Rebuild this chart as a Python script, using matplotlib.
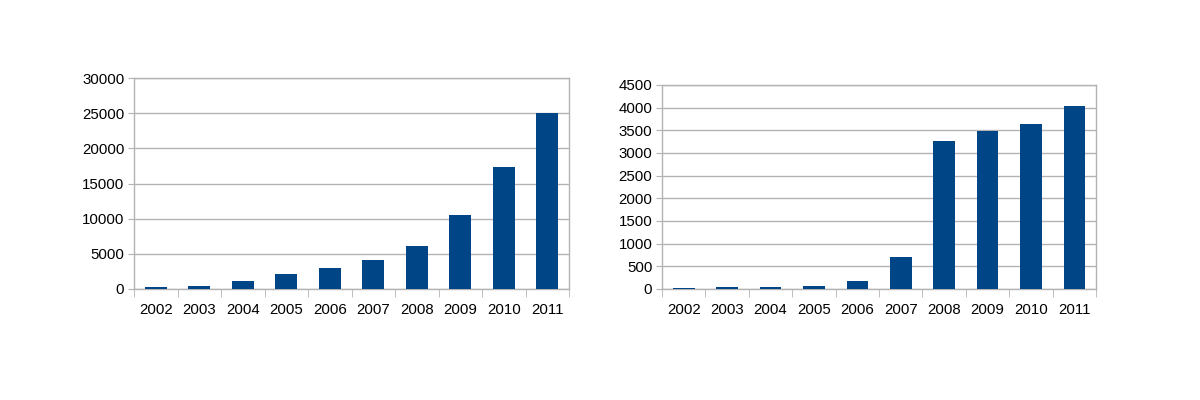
import matplotlib

matplotlib.use("Agg")
import matplotlib.pyplot as plt
import numpy as np
from matplotlib.ticker import FixedLocator, MultipleLocator

years = ["2002", "2003", "2004", "2005", "2006", "2007", "2008", "2009", "2010", "2011"]
left_values = [300, 480, 1200, 2200, 3000, 4100, 6100, 10500, 17400, 25000]
right_values = [12, 35, 35, 60, 170, 700, 3275, 3475, 3650, 4045]

BAR = "#004586"
GRID = "#b3b3b3"

plt.rcParams["font.family"] = ["Liberation Sans", "DejaVu Sans"]

fig = plt.figure(figsize=(12, 4), dpi=100)
ax_l = fig.add_axes([0.1117, 0.2775, 0.3625, 0.5275])
ax_r = fig.add_axes([0.5517, 0.2775, 0.3617, 0.5100])


def style(ax, values, ymax, step):
    x = np.arange(len(years))
    ax.bar(x, values, width=0.5, color=BAR, zorder=3)
    ax.set_xlim(-0.5, len(years) - 0.5)
    ax.set_ylim(0, ymax)
    ax.yaxis.set_major_locator(MultipleLocator(step))
    ax.set_xticks(x)
    ax.set_xticklabels(years)
    ax.xaxis.set_minor_locator(FixedLocator(np.arange(-0.5, len(years), 1.0)))
    ax.tick_params(axis="x", which="major", length=0, pad=10, labelsize=10.8)
    ax.tick_params(axis="x", which="minor", length=6, color=GRID, direction="out")
    ax.tick_params(axis="y", length=4, color=GRID, pad=3, labelsize=10.8)
    ax.grid(axis="y", color=GRID, lw=1, zorder=0)
    for s in ax.spines.values():
        s.set_color(GRID)
        s.set_linewidth(1)


style(ax_l, left_values, 30000, 5000)
style(ax_r, right_values, 4500, 500)

fig.savefig("out.png", dpi=100)
